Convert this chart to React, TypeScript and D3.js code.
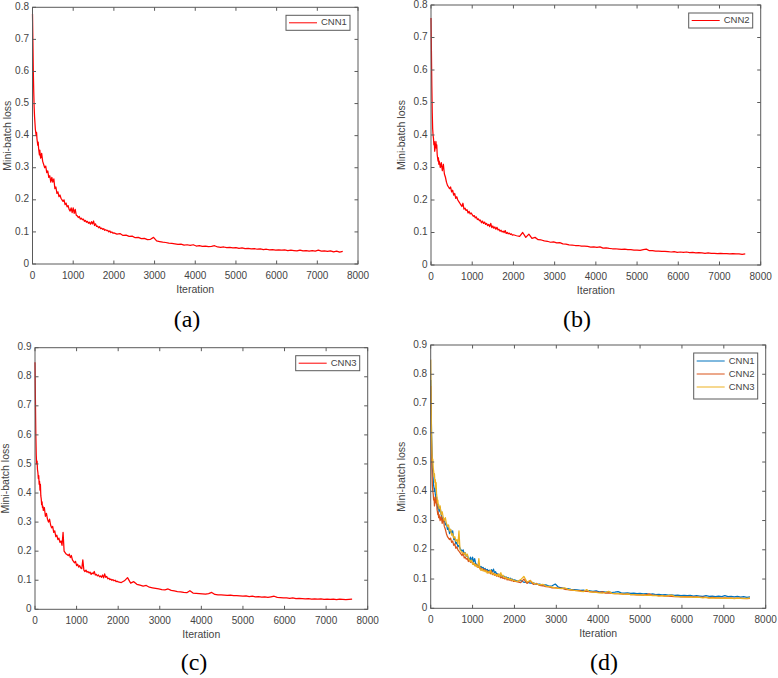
import * as d3 from "d3";
import { useMemo } from "react";

const W = 778;
const H = 678;

// iteration grid the losses were read at (dense at the start, sparser later)
const ITER = [
  ...d3.range(0, 200, 10),
  ...d3.range(200, 2000, 25),
  ...d3.range(2000, 7651, 75),
];

const X_TICKS = [0, 1000, 2000, 3000, 4000, 5000, 6000, 7000, 8000];
const Y_TICKS_08 = [0, 0.1, 0.2, 0.3, 0.4, 0.5, 0.6, 0.7, 0.8];
const Y_TICKS_09 = [0, 0.1, 0.2, 0.3, 0.4, 0.5, 0.6, 0.7, 0.8, 0.9];

// mini-batch loss
const LOSS_CNN1 = [
  // 0–190
  0.78, 0.69, 0.6, 0.54, 0.49, 0.46, 0.44, 0.42, 0.41, 0.4, 0.41, 0.39, 0.38, 0.37, 0.38, 0.36, 0.35, 0.34, 0.355, 0.34,
  // 200–1975
  0.33, 0.345, 0.32, 0.31, 0.3, 0.305, 0.285, 0.29, 0.27, 0.275, 0.255, 0.27, 0.255, 0.265, 0.235, 0.24, 0.22, 0.225,
  0.21, 0.215, 0.205, 0.2, 0.195, 0.2, 0.185, 0.19, 0.178, 0.182, 0.17, 0.165, 0.175, 0.16, 0.175, 0.158, 0.17, 0.152,
  0.15, 0.145, 0.148, 0.14, 0.143, 0.138, 0.14, 0.133, 0.136, 0.13, 0.133, 0.127, 0.13, 0.124, 0.132, 0.125, 0.134,
  0.12, 0.125, 0.117, 0.118, 0.113, 0.116, 0.11, 0.112, 0.108, 0.11, 0.105, 0.107, 0.104, 0.105, 0.1, 0.103, 0.098,
  0.1, 0.096,
  // 2000–7625
  0.097, 0.093, 0.095, 0.089, 0.09, 0.086, 0.087, 0.082, 0.083, 0.079, 0.08, 0.076, 0.077, 0.083, 0.072, 0.07, 0.068,
  0.067, 0.065, 0.064, 0.063, 0.061, 0.062, 0.059, 0.06, 0.058, 0.06, 0.056, 0.057, 0.055, 0.056, 0.054, 0.055, 0.057,
  0.053, 0.052, 0.053, 0.051, 0.052, 0.05, 0.051, 0.049, 0.05, 0.048, 0.049, 0.047, 0.048, 0.046, 0.047, 0.045, 0.046,
  0.044, 0.045, 0.043, 0.044, 0.043, 0.044, 0.042, 0.043, 0.042, 0.041, 0.043, 0.041, 0.042, 0.04, 0.042, 0.04, 0.043,
  0.04, 0.041, 0.039, 0.041, 0.038, 0.04, 0.037, 0.039,
];

const LOSS_CNN2 = [
  // 0–190
  0.76, 0.66, 0.55, 0.47, 0.42, 0.4, 0.39, 0.37, 0.38, 0.35, 0.36, 0.37, 0.38, 0.36, 0.37, 0.34, 0.33, 0.32, 0.33, 0.31,
  // 200–1975
  0.32, 0.3, 0.315, 0.29, 0.31, 0.28, 0.27, 0.255, 0.245, 0.24, 0.235, 0.24, 0.225, 0.23, 0.215, 0.22, 0.205, 0.21,
  0.2, 0.195, 0.19, 0.185, 0.18, 0.19, 0.172, 0.175, 0.168, 0.17, 0.16, 0.165, 0.157, 0.16, 0.155, 0.15, 0.152, 0.145,
  0.148, 0.14, 0.142, 0.136, 0.138, 0.13, 0.135, 0.128, 0.132, 0.125, 0.128, 0.121, 0.125, 0.118, 0.128, 0.115, 0.12,
  0.113, 0.117, 0.11, 0.116, 0.108, 0.11, 0.104, 0.107, 0.102, 0.104, 0.1, 0.106, 0.097, 0.1, 0.096, 0.098, 0.094,
  0.096, 0.092,
  // 2000–7625
  0.093, 0.09, 0.088, 0.1, 0.085, 0.095, 0.082, 0.085, 0.078, 0.077, 0.074, 0.073, 0.07, 0.071, 0.068, 0.069, 0.065,
  0.064, 0.062, 0.061, 0.06, 0.06, 0.058, 0.058, 0.057, 0.055, 0.056, 0.054, 0.056, 0.052, 0.053, 0.051, 0.05, 0.05,
  0.049, 0.048, 0.049, 0.047, 0.047, 0.046, 0.046, 0.045, 0.047, 0.049, 0.044, 0.044, 0.043, 0.043, 0.042, 0.042,
  0.041, 0.04, 0.041, 0.039, 0.04, 0.039, 0.04, 0.038, 0.039, 0.037, 0.038, 0.037, 0.036, 0.037, 0.036, 0.036, 0.035,
  0.036, 0.035, 0.035, 0.034, 0.035, 0.034, 0.034, 0.033, 0.034,
];

const LOSS_CNN3 = [
  // 0–190
  0.85, 0.72, 0.6, 0.53, 0.5, 0.51, 0.48, 0.47, 0.45, 0.46, 0.43, 0.44, 0.41, 0.43, 0.39, 0.38, 0.36, 0.37, 0.35, 0.355,
  // 200–1975
  0.34, 0.35, 0.32, 0.33, 0.31, 0.3, 0.31, 0.29, 0.28, 0.285, 0.265, 0.27, 0.25, 0.255, 0.24, 0.245, 0.23, 0.235, 0.22,
  0.265, 0.2, 0.195, 0.19, 0.188, 0.185, 0.19, 0.178, 0.185, 0.17, 0.165, 0.16, 0.165, 0.15, 0.155, 0.145, 0.15,
  0.142, 0.14, 0.17, 0.135, 0.13, 0.135, 0.128, 0.13, 0.125, 0.128, 0.12, 0.125, 0.122, 0.13, 0.118, 0.12, 0.115,
  0.118, 0.112, 0.115, 0.11, 0.118, 0.108, 0.122, 0.11, 0.113, 0.105, 0.107, 0.102, 0.104, 0.1, 0.102, 0.098, 0.1,
  0.095, 0.097,
  // 2000–7625
  0.094, 0.092, 0.098, 0.109, 0.09, 0.095, 0.086, 0.083, 0.08, 0.082, 0.076, 0.074, 0.072, 0.07, 0.068, 0.067, 0.07,
  0.065, 0.063, 0.061, 0.06, 0.058, 0.057, 0.064, 0.056, 0.055, 0.054, 0.053, 0.052, 0.054, 0.058, 0.051, 0.05, 0.05,
  0.049, 0.048, 0.049, 0.047, 0.047, 0.046, 0.045, 0.046, 0.044, 0.045, 0.043, 0.044, 0.042, 0.043, 0.041, 0.043,
  0.045, 0.041, 0.04, 0.039, 0.039, 0.038, 0.039, 0.037, 0.038, 0.037, 0.036, 0.037, 0.035, 0.036, 0.035, 0.036,
  0.034, 0.035, 0.034, 0.035, 0.033, 0.035, 0.034, 0.033, 0.034, 0.035,
];

type Series = { name: string; values: number[]; color: string };

const RED = "#ff0000";
const PARULA = ["#0072bd", "#d95319", "#edb120"];

const FONT = "'Liberation Sans', Arial, Helvetica, sans-serif";
const AXIS = "#5a5a5a";
const TEXT = "#444444";

type PanelProps = {
  left: number;
  right: number;
  top: number;
  bottom: number;
  yTicks: number[];
  yLabelX: number;
  caption: string;
  capX: number;
  capY: number;
  series: Series[];
};

function Panel({ left, right, top, bottom, yTicks, yLabelX, caption, capX, capY, series }: PanelProps) {
  const x = useMemo(() => d3.scaleLinear().domain([0, 8000]).range([left, right]), [left, right]);
  const y = useMemo(
    () => d3.scaleLinear().domain([0, yTicks[yTicks.length - 1]]).range([bottom, top]),
    [yTicks, top, bottom],
  );
  const line = d3
    .line<number>()
    .x((_, i) => x(ITER[i]))
    .y((d) => y(d));

  const TL = 3.5; // tick length, pointing inward (MATLAB style)
  const legW = 64;
  const rowH = 13;
  const legH = series.length === 1 ? 15 : 6 + rowH * series.length + 1;
  const legX = right - 8 - legW;
  const legY = top + 8;

  return (
    <g>
      <rect x={left} y={top} width={right - left} height={bottom - top} fill="#fff" />
      {series.map((s) => (
        <path key={s.name} d={line(s.values) ?? ""} fill="none" stroke={s.color} strokeWidth={1.25} strokeLinejoin="round" />
      ))}

      {/* box + ticks */}
      <rect x={left} y={top} width={right - left} height={bottom - top} fill="none" stroke={AXIS} strokeWidth={1} />
      {X_TICKS.map((t) => (
        <g key={`x${t}`}>
          <line x1={x(t)} x2={x(t)} y1={bottom} y2={bottom - TL} stroke={AXIS} />
          <line x1={x(t)} x2={x(t)} y1={top} y2={top + TL} stroke={AXIS} />
          <text x={x(t)} y={bottom + 14.5} textAnchor="middle" fontSize={10} fontFamily={FONT} fill={TEXT}>
            {t}
          </text>
        </g>
      ))}
      {yTicks.map((t) => (
        <g key={`y${t}`}>
          <line x1={left} x2={left + TL} y1={y(t)} y2={y(t)} stroke={AXIS} />
          <line x1={right} x2={right - TL} y1={y(t)} y2={y(t)} stroke={AXIS} />
          <text
            x={left - 3.5}
            y={y(t)}
            textAnchor="end"
            dominantBaseline="middle"
            fontSize={10}
            fontFamily={FONT}
            fill={TEXT}
          >
            {d3.format(".1~f")(t)}
          </text>
        </g>
      ))}

      <text x={(left + right) / 2} y={bottom + 29} textAnchor="middle" fontSize={10.5} fontFamily={FONT} fill={TEXT}>
        Iteration
      </text>
      <text
        transform={`translate(${yLabelX},${(top + bottom) / 2}) rotate(-90)`}
        textAnchor="middle"
        dominantBaseline="middle"
        fontSize={10.5}
        fontFamily={FONT}
        fill={TEXT}
      >
        Mini-batch loss
      </text>

      {/* legend */}
      <rect x={legX} y={legY} width={legW} height={legH} fill="#fff" stroke={AXIS} strokeWidth={1} />
      {series.map((s, i) => {
        const cy = series.length === 1 ? legY + legH / 2 : legY + 8 + i * rowH;
        return (
          <g key={`leg${s.name}`}>
            <line x1={legX + 3} x2={legX + 31} y1={cy} y2={cy} stroke={s.color} strokeWidth={1} />
            <text x={legX + 35} y={cy} dominantBaseline="middle" fontSize={9.5} fontFamily={FONT} fill={TEXT}>
              {s.name}
            </text>
          </g>
        );
      })}

      <text x={capX} y={capY} textAnchor="middle" fontSize={24} fontFamily="'Liberation Serif', 'Times New Roman', serif" fill="#000">
        {caption}
      </text>
    </g>
  );
}

export default function App() {
  return (
    <svg
      width={W}
      height={H}
      viewBox={`0 0 ${W} ${H}`}
      style={{ position: "absolute", left: 0, top: 0, background: "#fff" }}
    >
      <rect width={W} height={H} fill="#fff" />
      <Panel
        left={32.5}
        right={358}
        top={7.3}
        bottom={264}
        yTicks={Y_TICKS_08}
        yLabelX={8}
        caption="(a)"
        capX={187}
        capY={327}
        series={[{ name: "CNN1", values: LOSS_CNN1, color: RED }]}
      />
      <Panel
        left={431}
        right={760.7}
        top={5}
        bottom={265}
        yTicks={Y_TICKS_08}
        yLabelX={402}
        caption="(b)"
        capX={577}
        capY={327}
        series={[{ name: "CNN2", values: LOSS_CNN2, color: RED }]}
      />
      <Panel
        left={35}
        right={367.7}
        top={347.7}
        bottom={609.3}
        yTicks={Y_TICKS_09}
        yLabelX={6}
        caption="(c)"
        capX={194}
        capY={670}
        series={[{ name: "CNN3", values: LOSS_CNN3, color: RED }]}
      />
      <Panel
        left={430.7}
        right={765.7}
        top={345}
        bottom={608.3}
        yTicks={Y_TICKS_09}
        yLabelX={402}
        caption="(d)"
        capX={604}
        capY={670}
        series={[
          { name: "CNN1", values: LOSS_CNN1, color: PARULA[0] },
          { name: "CNN2", values: LOSS_CNN2, color: PARULA[1] },
          { name: "CNN3", values: LOSS_CNN3, color: PARULA[2] },
        ]}
      />
    </svg>
  );
}
